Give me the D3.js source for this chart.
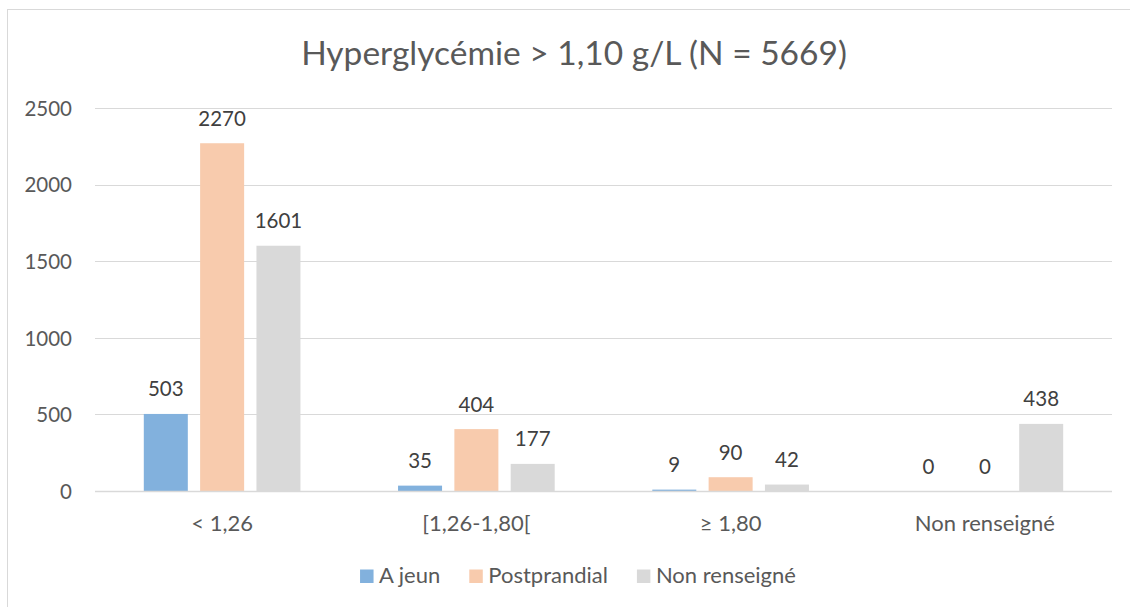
<!DOCTYPE html>
<html>
<head>
<meta charset="utf-8">
<script src="https://cdn.jsdelivr.net/npm/d3@7"></script>
<style>
  body { margin: 0; background: #fff; }
  svg { display: block; font-family: Lato, "Open Sans", sans-serif; }
</style>
</head>
<body>
<svg width="1130" height="607"></svg>
<script>
"use strict";

// Chart data
var categories = ["< 1,26", "[1,26-1,80[", "≥ 1,80", "Non renseigné"];
var seriesNames = ["A jeun", "Postprandial", "Non renseigné"];
var aJeun = [503, 35, 9, 0];
var postprandial = [2270, 404, 90, 0];
var nonRenseigne = [1601, 177, 42, 438];
var yTicks = [0, 500, 1000, 1500, 2000, 2500];

var seriesValues = [aJeun, postprandial, nonRenseigne];
var colors = ["#82b1dd", "#f8cbad", "#d9d9d9"];
var textColor = "#595959";

var svg = d3.select("svg");

// Outer frame
svg.append("rect")
    .attr("x", 7.5)
    .attr("y", 9.5)
    .attr("width", 1140)
    .attr("height", 700)
    .attr("fill", "none")
    .attr("stroke", "#d9d9d9")
    .attr("stroke-width", 1);

// Title
svg.append("text")
    .attr("x", 574)
    .attr("y", 65)
    .attr("text-anchor", "middle")
    .attr("fill", textColor)
    .style("font-size", "33.5px")
    .text("Hyperglycémie > 1,10 g/L (N = 5669)");

// Scales
var x0 = d3.scaleBand()
    .domain(categories)
    .range([95, 1112]);

var x1 = d3.scaleBand()
    .domain(seriesNames)
    .range([48.8, x0.bandwidth() - 48.8])
    .paddingInner(0.2186);

var y = d3.scaleLinear()
    .domain([0, 2500])
    .range([491, 108]);

// Gridlines
svg.append("g")
    .selectAll("line")
    .data(yTicks.filter(function(t) { return t > 0; }))
    .enter().append("line")
    .attr("x1", 95)
    .attr("x2", 1112)
    .attr("y1", function(d) { return Math.round(y(d)) + 0.5; })
    .attr("y2", function(d) { return Math.round(y(d)) + 0.5; })
    .attr("stroke", "#d9d9d9")
    .attr("stroke-width", 1);

// Y axis labels
var yAxis = d3.axisLeft(y)
    .tickValues(yTicks)
    .tickFormat(d3.format("d"))
    .tickSize(0)
    .tickPadding(0);

var yAxisG = svg.append("g")
    .attr("transform", "translate(72, 0)")
    .call(yAxis);
yAxisG.select(".domain").remove();
yAxisG.selectAll("text")
    .attr("fill", textColor)
    .attr("dy", "0.36em")
    .style("font-family", "Lato, sans-serif")
    .style("font-size", "20.5px");

// Bars
var groups = svg.append("g")
    .selectAll("g")
    .data(categories)
    .enter().append("g")
    .attr("transform", function(d) { return "translate(" + x0(d) + ",0)"; });

groups.selectAll("rect")
    .data(function(d, i) {
        return seriesNames.map(function(s, j) {
            return { series: s, value: seriesValues[j][i], color: colors[j] };
        });
    })
    .enter().append("rect")
    .attr("x", function(d) { return x1(d.series); })
    .attr("y", function(d) { return y(d.value); })
    .attr("width", x1.bandwidth())
    .attr("height", function(d) { return y(0) - y(d.value); })
    .attr("fill", function(d) { return d.color; });

// Data labels
groups.selectAll("text")
    .data(function(d, i) {
        return seriesNames.map(function(s, j) {
            return { series: s, value: seriesValues[j][i] };
        });
    })
    .enter().append("text")
    .attr("x", function(d) { return x1(d.series) + x1.bandwidth() / 2; })
    .attr("y", function(d) { return y(d.value) - 17.5; })
    .attr("text-anchor", "middle")
    .attr("fill", "#404040")
    .style("font-size", "20.5px")
    .text(function(d) { return d.value; });

// X axis line
svg.append("line")
    .attr("x1", 95)
    .attr("x2", 1112)
    .attr("y1", 491.5)
    .attr("y2", 491.5)
    .attr("stroke", "#d9d9d9")
    .attr("stroke-width", 1.3);

// Category labels
var xAxis = d3.axisBottom(x0)
    .tickSize(0)
    .tickPadding(0);

var xAxisG = svg.append("g")
    .attr("transform", "translate(0, 491)")
    .call(xAxis);
xAxisG.select(".domain").remove();
xAxisG.selectAll("text")
    .attr("fill", textColor)
    .attr("dy", null)
    .attr("y", 39.5)
    .style("font-family", "Lato, sans-serif")
    .style("font-size", "22px");

// Legend
var legend = svg.append("g");
var items = legend.selectAll("g")
    .data(seriesNames)
    .enter().append("g");

items.append("rect")
    .attr("y", 569.5)
    .attr("width", 13.5)
    .attr("height", 13.5)
    .attr("fill", function(d, i) { return colors[i]; });

items.append("text")
    .attr("x", 19)
    .attr("y", 583)
    .attr("fill", textColor)
    .style("font-size", "22px")
    .text(function(d) { return d; });

// Place legend items side by side, centred
var offset = 0;
var widths = [];
items.each(function() {
    widths.push(this.getBBox().width);
});
var total = d3.sum(widths) + 29 * (widths.length - 1);
var start = 578 - total / 2;
items.attr("transform", function(d, i) {
    var tx = start + offset;
    offset += widths[i] + 29;
    return "translate(" + tx + ",0)";
});
</script>
</body>
</html>
